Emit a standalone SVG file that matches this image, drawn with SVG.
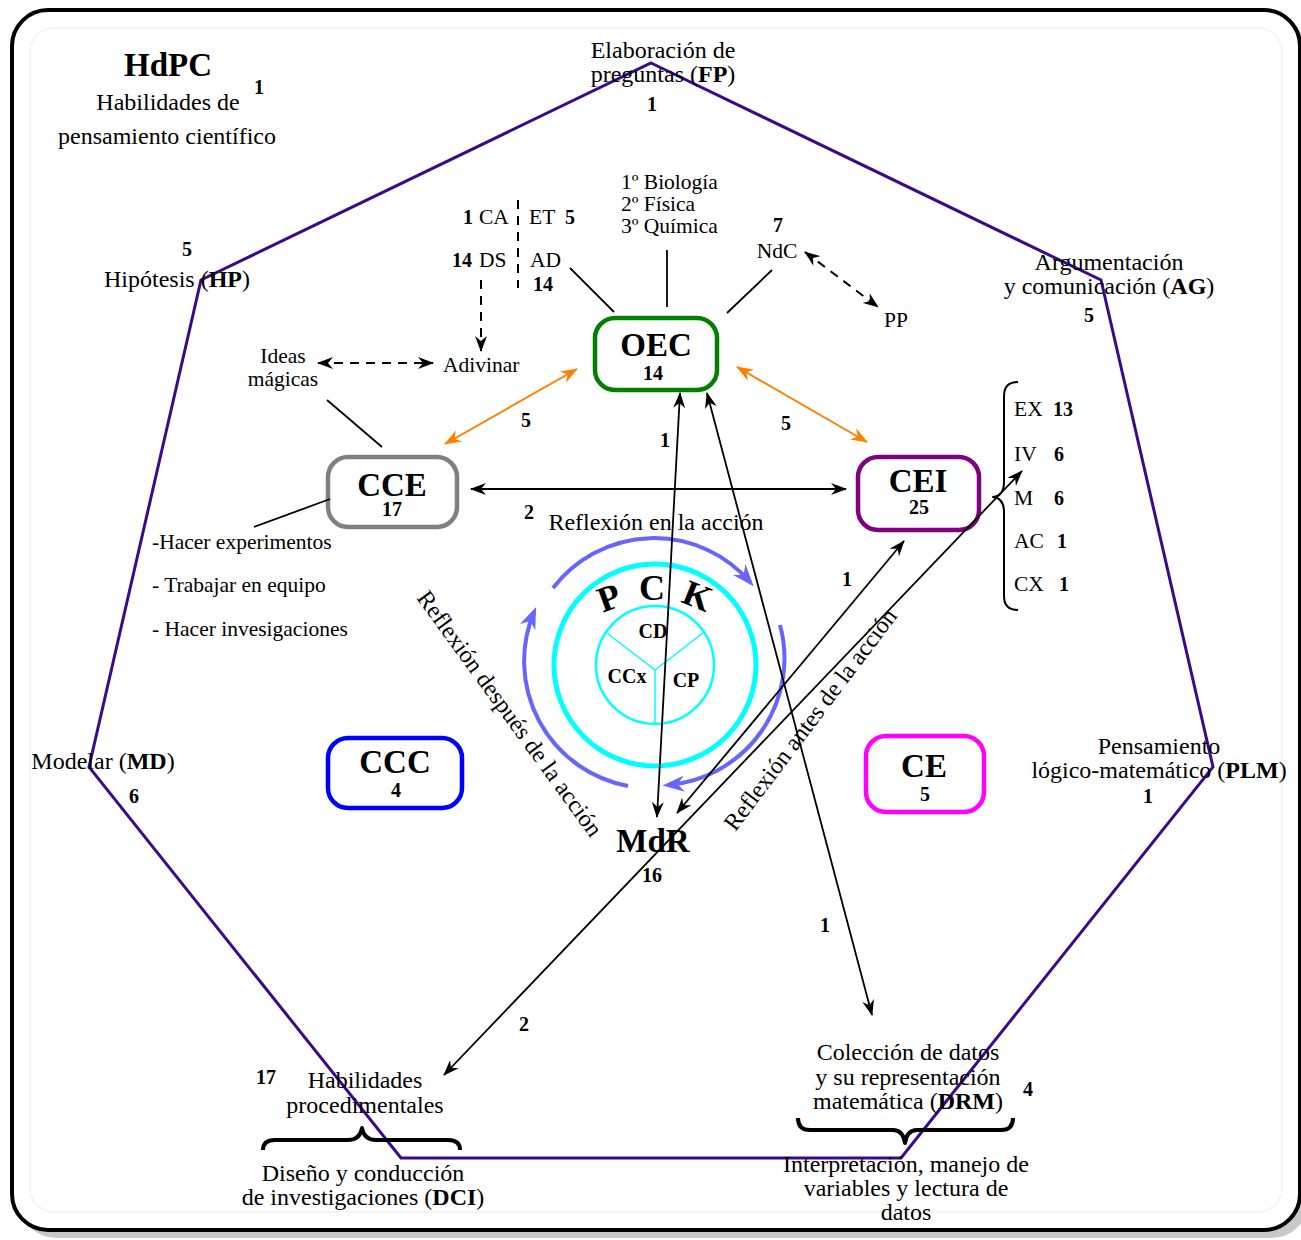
<svg xmlns="http://www.w3.org/2000/svg" width="1301" height="1240" viewBox="0 0 1301 1240">
  <style>
    text { font-family: "Liberation Serif", "Times New Roman", serif; fill: #000; }
    .t24 { font-size: 24px; }
    .t21 { font-size: 21.5px; }
    .b { font-weight: bold; }
    .n { font-size: 20px; font-weight: bold; }
    .big { font-size: 33px; font-weight: bold; }
    .mid { text-anchor: middle; }
    .node { fill: #fff; stroke-width: 4.5; }
    .ln { stroke: #000; stroke-width: 1.8; fill: none; }
    .dash { stroke: #000; stroke-width: 2; fill: none; stroke-dasharray: 9 7; }
    .arr { stroke: #000; stroke-width: 1.8; fill: none; marker-start: url(#ah); marker-end: url(#ah); }
    .orange { stroke: #ff8000; stroke-width: 2; fill: none; marker-start: url(#aho); marker-end: url(#aho); }
    .cyc { stroke: #6666ff; stroke-width: 4; fill: none; marker-end: url(#ahb); }
    .brace { stroke: #000; fill: none; stroke-linejoin: round; }
  </style>
  <defs>
    <marker id="ah" viewBox="0 0 16 12" refX="15" refY="6" markerWidth="16" markerHeight="12" markerUnits="userSpaceOnUse" orient="auto-start-reverse">
      <path d="M0,0 L16,6 L0,12 L5,6 z" fill="#000"/>
    </marker>
    <marker id="aho" viewBox="0 0 16 12" refX="15" refY="6" markerWidth="18" markerHeight="13" markerUnits="userSpaceOnUse" orient="auto-start-reverse">
      <path d="M0,0 L16,6 L0,12 L5,6 z" fill="#ff8000"/>
    </marker>
    <marker id="ahb" viewBox="0 0 16 12" refX="12" refY="6" markerWidth="22" markerHeight="17" markerUnits="userSpaceOnUse" orient="auto">
      <path d="M0,0 L16,6 L0,12 L5,6 z" fill="#6666ff"/>
    </marker>
  </defs>

  <!-- frame with drop shadow -->
  <rect x="20" y="18" width="1288" height="1220" rx="36" fill="#c8c8c8"/>
  <rect x="12" y="10" width="1288" height="1220" rx="36" fill="#fff" stroke="#000" stroke-width="4"/>
  <rect x="30" y="28" width="1252" height="1184" rx="24" fill="none" stroke="#f2f2f2" stroke-width="1.5"/>

  <!-- heptagon of scientific-thinking skills -->
  <polygon points="651,63 1101,280 1213,767 901,1158 401,1158 89,767 201,280" fill="none" stroke="#3b0a8a" stroke-width="3"/>

  <!-- title -->
  <g id="title">
    <text class="mid b" x="168" y="76" style="font-size:33px">HdPC</text>
    <text class="n mid" x="259" y="94">1</text>
    <text class="t24 mid" x="168" y="110">Habilidades de</text>
    <text class="t24 mid" x="167" y="144">pensamiento científico</text>
  </g>

  <!-- heptagon vertex labels -->
  <g id="fp">
    <text class="t24 mid" x="663" y="58">Elaboración de</text>
    <text class="t24 mid" x="663" y="82">preguntas (<tspan class="b">FP</tspan>)</text>
    <text class="n mid" x="652" y="111">1</text>
  </g>
  <g id="hp">
    <text class="n mid" x="187" y="256">5</text>
    <text class="t24 mid" x="177" y="287">Hipótesis (<tspan class="b">HP</tspan>)</text>
  </g>
  <g id="ag">
    <text class="t24 mid" x="1109" y="270">Argumentación</text>
    <text class="t24 mid" x="1109" y="294">y comunicación (<tspan class="b">AG</tspan>)</text>
    <text class="n mid" x="1089" y="322">5</text>
  </g>
  <g id="md">
    <text class="t24 mid" x="103" y="769">Modelar (<tspan class="b">MD</tspan>)</text>
    <text class="n mid" x="134" y="803">6</text>
  </g>
  <g id="plm">
    <text class="t24 mid" x="1159" y="754">Pensamiento</text>
    <text class="t24 mid" x="1159" y="778">lógico-matemático (<tspan class="b">PLM</tspan>)</text>
    <text class="n mid" x="1148" y="803">1</text>
  </g>
  <g id="dci">
    <text class="n mid" x="266" y="1084">17</text>
    <text class="t24 mid" x="365" y="1088">Habilidades</text>
    <text class="t24 mid" x="365" y="1113">procedimentales</text>
    <path class="brace" stroke-width="4" d="M263,1150 Q263,1140 275,1140 L348,1140 Q360,1140 362,1128 Q364,1140 376,1140 L448,1140 Q460,1140 460,1150"/>
    <text class="t24 mid" x="363" y="1181">Diseño y conducción</text>
    <text class="t24 mid" x="363" y="1205">de investigaciones (<tspan class="b">DCI</tspan>)</text>
  </g>
  <g id="drm">
    <text class="t24 mid" x="908" y="1060">Colección de datos</text>
    <text class="t24 mid" x="908" y="1085">y su representación</text>
    <text class="t24 mid" x="908" y="1109">matemática (<tspan class="b">DRM</tspan>)</text>
    <text class="n mid" x="1028" y="1096">4</text>
    <path class="brace" stroke-width="4" d="M798,1118 Q798,1130 810,1130 L893,1130 Q903,1130 905,1143 Q907,1130 917,1130 L1001,1130 Q1013,1130 1013,1118"/>
    <text class="t24 mid" x="906" y="1172">Interpretación, manejo de</text>
    <text class="t24 mid" x="906" y="1196">variables y lectura de</text>
    <text class="t24 mid" x="906" y="1220">datos</text>
  </g>

  <!-- nodes -->
  <g id="oec">
    <rect class="node" x="595" y="318" width="122" height="72" rx="20" stroke="#008000"/>
    <text class="big mid" x="656" y="356">OEC</text>
    <text class="n mid" x="653" y="380">14</text>
  </g>
  <g id="cce">
    <rect class="node" x="328" y="457" width="129" height="70" rx="20" stroke="#808080"/>
    <text class="big mid" x="392" y="496">CCE</text>
    <text class="n mid" x="392" y="516">17</text>
  </g>
  <g id="cei">
    <rect class="node" x="858" y="457" width="121" height="73" rx="20" stroke="#800080"/>
    <text class="big mid" x="918" y="492">CEI</text>
    <text class="n mid" x="919" y="514">25</text>
  </g>
  <g id="ccc">
    <rect class="node" x="328" y="738" width="134" height="70" rx="20" stroke="#0000ff"/>
    <text class="big mid" x="395" y="773">CCC</text>
    <text class="n mid" x="396" y="797">4</text>
  </g>
  <g id="ce">
    <rect class="node" x="866" y="736" width="118" height="76" rx="20" stroke="#ff00ff"/>
    <text class="big mid" x="924" y="777">CE</text>
    <text class="n mid" x="925" y="801">5</text>
  </g>
  <g id="mdr">
    <text class="big mid" x="653" y="852">MdR</text>
    <text class="n mid" x="652" y="882">16</text>
  </g>

  <!-- PCK circle -->
  <g id="pck">
    <circle cx="655" cy="665" r="101" fill="none" stroke="#00ffff" stroke-width="5"/>
    <circle cx="655" cy="665" r="59" fill="none" stroke="#00ffff" stroke-width="2.5"/>
    <path d="M655,670 L607,633 M655,670 L703,633 M655,670 L655,724" stroke="#00ffff" stroke-width="1.5" fill="none"/>
    <text class="mid b" style="font-size:36px" transform="translate(613,609) rotate(-20)">P</text>
    <text class="mid b" style="font-size:36px" x="652" y="600">C</text>
    <text class="mid b" style="font-size:36px" transform="translate(693,607) rotate(22)">K</text>
    <text class="mid b" style="font-size:20px" x="653" y="638">CD</text>
    <text class="mid b" style="font-size:20px" x="627" y="683">CCx</text>
    <text class="mid b" style="font-size:20px" x="686" y="687">CP</text>
  </g>

  <!-- reflection cycle -->
  <g id="cycle">
    <path class="cyc" d="M553,588 A127,127 0 0 1 750,582"/>
    <path class="cyc" d="M780,625 A127,127 0 0 1 668,785"/>
    <path class="cyc" d="M628,786 A127,127 0 0 1 534,612"/>
    <text class="t24 mid" x="656" y="530">Reflexión en la acción</text>
    <text class="t24 mid" transform="translate(509,714) rotate(54)" y="7">Reflexión después de la acción</text>
    <text class="t24 mid" transform="translate(811,720) rotate(-53)" y="7">Reflexión antes de la acción</text>
  </g>

  <!-- annotations around OEC -->
  <g id="oec-notes">
    <text class="t21" x="621" y="189">1º Biología</text>
    <text class="t21" x="621" y="211">2º Física</text>
    <text class="t21" x="621" y="233">3º Química</text>
    <text class="n" x="463" y="224">1</text>
    <text class="t21" x="479" y="224">CA</text>
    <text class="t21" x="529" y="224">ET</text>
    <text class="n" x="565" y="224">5</text>
    <text class="n" x="452" y="267">14</text>
    <text class="t21" x="479" y="267">DS</text>
    <text class="t21" x="530" y="267">AD</text>
    <text class="n" x="533" y="291">14</text>
    <text class="n mid" x="778" y="232">7</text>
    <text class="t21 mid" x="777" y="258">NdC</text>
    <text class="t21" x="884" y="327">PP</text>
    <text class="t21" x="443" y="372">Adivinar</text>
    <text class="t21 mid" x="283" y="363">Ideas</text>
    <text class="t21 mid" x="283" y="386">mágicas</text>
  </g>
  <g id="cce-notes">
    <text class="t21" x="152" y="549">-Hacer experimentos</text>
    <text class="t21" x="152" y="592">- Trabajar en equipo</text>
    <text class="t21" x="152" y="636">- Hacer invesigaciones</text>
  </g>
  <g id="cei-notes">
    <path class="brace" stroke-width="2" d="M1018,382 Q1004,382 1004,396 L1004,482 Q1004,496 993,497 Q1004,498 1004,512 L1004,596 Q1004,610 1018,610"/>
    <text class="t21" x="1014" y="416">EX</text><text class="n" x="1053" y="416">13</text>
    <text class="t21" x="1014" y="461">IV</text><text class="n" x="1054" y="461">6</text>
    <text class="t21" x="1014" y="505">M</text><text class="n" x="1054" y="505">6</text>
    <text class="t21" x="1014" y="548">AC</text><text class="n" x="1057" y="548">1</text>
    <text class="t21" x="1014" y="591">CX</text><text class="n" x="1059" y="591">1</text>
  </g>

  <!-- connectors -->
  <g id="connectors">
    <line class="ln" x1="667" y1="250" x2="667" y2="307"/>
    <line class="ln" x1="570" y1="268" x2="614" y2="312"/>
    <line class="ln" x1="772" y1="270" x2="727" y2="313"/>
    <line class="ln" x1="327" y1="400" x2="382" y2="447"/>
    <line class="ln" x1="330" y1="499" x2="254" y2="527"/>
    <line class="dash" x1="518" y1="200" x2="518" y2="288"/>
    <line class="dash" x1="481" y1="280" x2="481" y2="351" marker-end="url(#ah)"/>
    <line class="dash" x1="318" y1="363" x2="433" y2="363" marker-start="url(#ah)" marker-end="url(#ah)"/>
    <line class="dash" x1="805" y1="252" x2="878" y2="307" marker-start="url(#ah)" marker-end="url(#ah)"/>

    <line class="orange" x1="577" y1="369" x2="445" y2="444"/>
    <line class="orange" x1="737" y1="367" x2="867" y2="442"/>
    <text class="n mid" x="526" y="427">5</text>
    <text class="n mid" x="786" y="430">5</text>

    <line class="arr" x1="471" y1="489" x2="846" y2="489"/>
    <text class="n mid" x="529" y="519">2</text>

    <line class="arr" x1="680" y1="393" x2="657" y2="817"/>
    <text class="n mid" x="665" y="447">1</text>
    <line class="arr" x1="707" y1="393" x2="872" y2="1015"/>
    <text class="n mid" x="825" y="932">1</text>
    <line class="arr" x1="904" y1="541" x2="677" y2="813"/>
    <text class="n mid" x="847" y="586">1</text>
    <line class="arr" x1="1022" y1="471" x2="444" y2="1075"/>
    <text class="n mid" x="524" y="1031">2</text>
  </g>
</svg>
